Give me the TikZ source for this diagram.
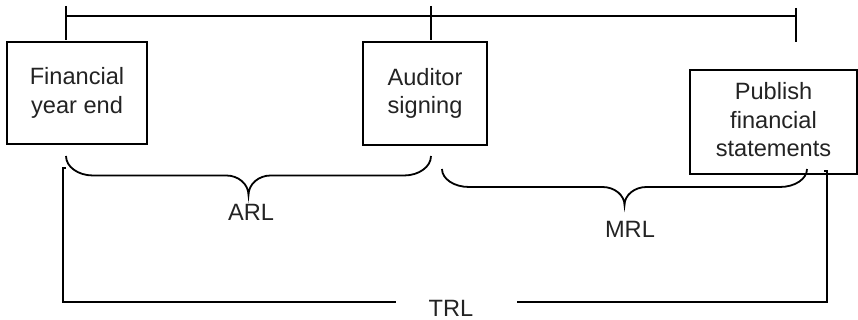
\documentclass[tikz,border=0pt]{standalone}
\usepackage{fontspec}
\setmainfont{Liberation Sans}
\definecolor{inkgray}{RGB}{35,35,35}

% curly brace hanging below a span: left x, right x, top y, half depth
\newcommand{\spanbrace}[4]{%
  \pgfmathsetmacro\bxm{(#1+#2)/2}%
  \draw[spanline] (#1,#3) .. controls (#1,#3+0.55*#4) and (#1+12,#3+#4) .. (#1+27,#3+#4)
    -- (\bxm-22,#3+#4) .. controls (\bxm-10,#3+#4) and (\bxm,#3+1.45*#4) .. (\bxm,#3+2*#4)
    .. controls (\bxm,#3+1.45*#4) and (\bxm+10,#3+#4) .. (\bxm+22,#3+#4)
    -- (#2-27,#3+#4) .. controls (#2-12,#3+#4) and (#2,#3+0.55*#4) .. (#2,#3);}

\begin{document}
\begin{tikzpicture}[x=0.5pt,y=-0.5pt,
  spanline/.style={line width=0.9pt,black},
  eventbox/.style={draw,line width=0.9pt,align=center,text=inkgray,inner sep=0pt,
    font=\fontsize{11.8}{14.3}\selectfont},
  spanlabel/.style={text=inkgray,inner sep=0pt,font=\fontsize{11.8}{14.3}\selectfont}]
\useasboundingbox (0,0) rectangle (858,320);

% events
\node[eventbox,minimum width=70pt,minimum height=51pt] (fye) at (77,93) {Financial\\year end};
\node[eventbox,minimum width=62pt,minimum height=51.5pt] (aud) at (425,93.5) {Auditor\\signing};
\node[eventbox,minimum width=83.5pt,minimum height=52pt] (pub) at (773.5,122) {Publish\\financial\\statements\vphantom{g}};

% timeline with ticks
\coordinate (tA) at (66,16);
\coordinate (tB) at (431,16);
\coordinate (tC) at (796,16);
\draw[spanline] (tA) -- (tC);
\draw[spanline] (66,6) -- (66,40);
\draw[spanline] (431,6) -- (431,40);
\draw[spanline] (796,8) -- (796,42);

% ARL and MRL braces
\spanbrace{66}{431}{156}{19.5}
\node[spanlabel] (arl) at (251,212) {ARL};
\spanbrace{442}{807}{169}{18}
\node[spanlabel] (mrl) at (630,229) {MRL};

% TRL bracket
\node[spanlabel] (trl) at (451,308) {TRL};
\coordinate (trlL) at (63,168);
\coordinate (trlR) at (827,171);
\draw[spanline] (66,168) -- (trlL) |- (396,302);
\draw[spanline] (517,302) -| (trlR) -- (824,171);
\end{tikzpicture}
\end{document}
